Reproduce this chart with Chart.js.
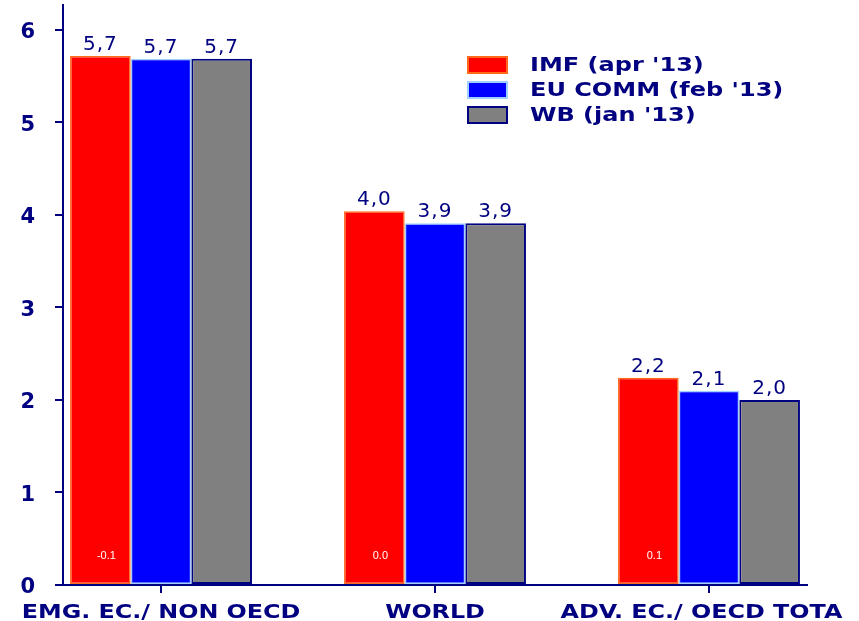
<!DOCTYPE html>
<html>
<head>
<meta charset="utf-8">
<script src="https://cdn.jsdelivr.net/npm/chart.js@4.4.1/dist/chart.umd.min.js"></script>
<style>
  html, body { margin: 0; padding: 0; background: #ffffff; }
  #wrap { position: relative; width: 843px; height: 621px; }
</style>
</head>
<body>
<div id="wrap"><canvas id="growth"></canvas></div>
<script>
// GDP growth forecasts by region (%)
const categories = ['EMG. EC./ NON OECD', 'WORLD', 'ADV. EC./ OECD TOTAL'];
const seriesNames = ["IMF (apr '13)", "EU COMM (feb '13)", "WB (jan '13)"];
const imf = [5.72, 4.04, 2.24];
const euComm = [5.69, 3.91, 2.10];
const wb = [5.69, 3.91, 2.00];
// revision of the IMF forecast, printed inside the IMF bars
const imfRevision = ['-0.1', '0.0', '0.1'];
const yTicks = [0, 1, 2, 3, 4, 5, 6];

const NAVY = '#000080';
const positions = categories.map((_, i) => i);

const fmt = v => v.toFixed(1).replace('.', ',');

// value labels above every bar, revision labels inside the IMF bars
const barLabels = {
  id: 'barLabels',
  afterDatasetsDraw(chart) {
    const ctx = chart.ctx;
    ctx.save();
    ctx.letterSpacing = '1px';
    ctx.fillStyle = NAVY;
    ctx.font = '20px "DejaVu Sans"';
    ctx.textAlign = 'center';
    ctx.textBaseline = 'alphabetic';
    chart.data.datasets.forEach((ds, di) => {
      const meta = chart.getDatasetMeta(di);
      meta.data.forEach((bar, i) => {
        ctx.fillText(fmt(ds.data[i]), bar.x, bar.y - 6);
      });
    });
    ctx.letterSpacing = '0px';
    ctx.fillStyle = '#ffffff';
    ctx.font = '11px "Liberation Sans"';
    ctx.textBaseline = 'middle';
    const yPix = chart.scales.y.getPixelForValue(0.31);
    chart.getDatasetMeta(0).data.forEach((bar, i) => {
      ctx.fillText(imfRevision[i], bar.x + 6, yPix);
    });
    ctx.restore();
  }
};

// wide bold category names under the x axis tick marks
const categoryNames = {
  id: 'categoryNames',
  afterDraw(chart) {
    const ctx = chart.ctx;
    const xs = chart.scales.x;
    const stretch = 1.19;
    ctx.save();
    ctx.font = 'bold 20px "DejaVu Sans"';
    ctx.fillStyle = NAVY;
    ctx.textAlign = 'center';
    ctx.textBaseline = 'alphabetic';
    positions.forEach(p => {
      const x = xs.getPixelForValue(p);
      ctx.save();
      ctx.translate(x, xs.bottom - 3);
      ctx.scale(stretch, 1);
      ctx.fillText(categories[p], 0, 0);
      ctx.restore();
    });
    ctx.restore();
  }
};

// stacked legend in the upper right of the plot
const boxLegend = {
  id: 'boxLegend',
  afterDraw(chart) {
    const ctx = chart.ctx;
    ctx.save();
    ctx.font = 'bold 20px "DejaVu Sans"';
    ctx.textBaseline = 'middle';
    ctx.textAlign = 'left';
    chart.data.datasets.forEach((ds, i) => {
      const cy = 65 + i * 25;
      ctx.fillStyle = ds.backgroundColor;
      ctx.fillRect(468, cy - 8, 39, 16);
      ctx.strokeStyle = ds.borderColor;
      ctx.lineWidth = 2;
      ctx.strokeRect(468, cy - 8, 39, 16);
      ctx.fillStyle = NAVY;
      ctx.save();
      ctx.translate(530, cy + 1);
      ctx.scale(1.2, 1);
      ctx.fillText(ds.label, 0, 0);
      ctx.restore();
    });
    ctx.restore();
  }
};

new Chart(document.getElementById('growth'), {
  type: 'bar',
  data: {
    labels: positions,
    datasets: [
      { label: seriesNames[0], data: imf, backgroundColor: '#ff0000', borderColor: '#ff6a1a', borderWidth: 1.5 },
      { label: seriesNames[1], data: euComm, backgroundColor: '#0000ff', borderColor: '#9fd0ff', borderWidth: 1.5 },
      { label: seriesNames[2], data: wb, backgroundColor: '#808080', borderColor: NAVY, borderWidth: 2 }
    ]
  },
  options: {
    responsive: true,
    maintainAspectRatio: false,
    animation: false,
    devicePixelRatio: 1,
    layout: { padding: { top: 5, right: 36, bottom: 0, left: 0 } },
    datasets: {
      bar: { categoryPercentage: 0.664, barPercentage: 1.0, borderSkipped: false }
    },
    plugins: {
      legend: { display: false },
      tooltip: { enabled: false }
    },
    scales: {
      x: {
        type: 'linear',
        offset: false,
        min: -0.3577,
        max: 2.3577,
        afterBuildTicks: s => { s.ticks = positions.map(v => ({ value: v })); },
        afterFit: s => { s.height = 36; s.paddingLeft = 0; s.paddingRight = 0; s.paddingTop = 0; s.paddingBottom = 0; },
        grid: { display: true, offset: false, drawOnChartArea: false, drawTicks: true, tickLength: 8, color: NAVY, lineWidth: 2 },
        border: { display: true, color: NAVY, width: 2 },
        ticks: { display: false }
      },
      y: {
        min: 0,
        max: 6.27,
        afterBuildTicks: s => { s.ticks = yTicks.map(v => ({ value: v })); },
        afterFit: s => { s.width = 63; s.paddingTop = 0; s.paddingBottom = 0; s.paddingLeft = 0; s.paddingRight = 0; },
        grid: { display: true, drawOnChartArea: false, drawTicks: true, tickLength: 8, color: NAVY, lineWidth: 2 },
        border: { display: true, color: NAVY, width: 2 },
        ticks: {
          padding: 20,
          labelOffset: 3,
          color: NAVY,
          font: { family: '"DejaVu Sans"', size: 21, weight: 'bold' }
        }
      }
    }
  },
  plugins: [barLabels, categoryNames, boxLegend]
});
</script>
</body>
</html>
